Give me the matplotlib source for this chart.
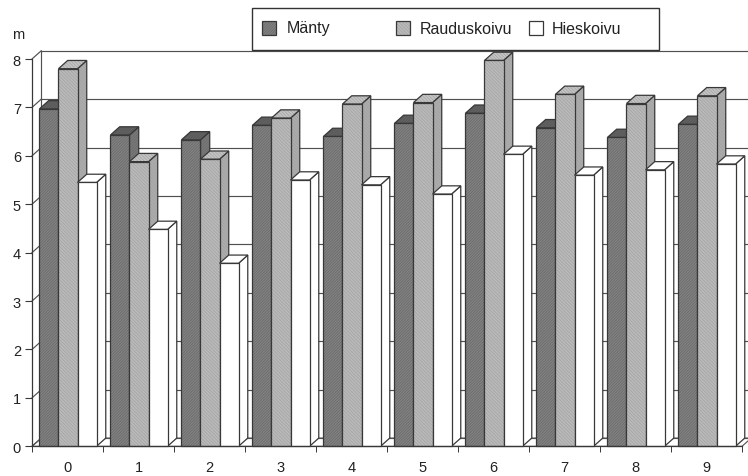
import matplotlib
matplotlib.use("Agg")
import matplotlib.pyplot as plt
from matplotlib.patches import Polygon, Rectangle

plt.rcParams['font.family'] = ['Liberation Sans', 'DejaVu Sans']
plt.rcParams['hatch.linewidth'] = 0.45

# --- data: mean height (m) by age class ---
ikaluokat = [0, 1, 2, 3, 4, 5, 6, 7, 8, 9]
manty = [6.97, 6.43, 6.33, 6.63, 6.40, 6.67, 6.88, 6.58, 6.38, 6.65]
rauduskoivu = [7.80, 5.88, 5.93, 6.78, 7.07, 7.10, 7.97, 7.27, 7.08, 7.24]
hieskoivu = [5.45, 4.48, 3.78, 5.50, 5.40, 5.21, 6.03, 5.60, 5.71, 5.83]
sarjat = ['Mänty', 'Rauduskoivu', 'Hieskoivu']
y_ticks = [0, 1, 2, 3, 4, 5, 6, 7, 8]

# face colours for each series: front, side, top, hatch pattern, hatch colour
tyylit = {
    'Mänty': dict(front='#828282', side='#7a7a7a', top='#5a5a5a',
                  hatch='////////////', hcol='#666666'),
    'Rauduskoivu': dict(front='#bababa', side='#acacac', top='#c4c4c4',
                        hatch='\\\\\\\\\\\\\\\\\\\\', hcol='#a0a0a0'),
    'Hieskoivu': dict(front='#ffffff', side='#ffffff', top='#ffffff',
                      hatch=None, hcol='none'),
}
EDGE = '#383838'
GRID = '#505050'

# pseudo-3D depth in data units
DX = 0.13
DY = 0.17
BAR_W = 0.268
GROUP_OFS = 0.105

W, H = 748, 477
fig = plt.figure(figsize=(W / 100, H / 100), dpi=100)
ax = fig.add_axes([32 / W, 29.7 / H, 710 / W, 387.3 / H])
ax.set_xlim(0, 10)
ax.set_ylim(0, 8)


def line(xs, ys, z=1, **kw):
    ax.plot(xs, ys, color=GRID, lw=0.85, clip_on=False, zorder=z, **kw)


# floor
ax.add_patch(Polygon([(0, 0), (10, 0), (10 + DX, DY), (DX, DY)], closed=True,
                     facecolor='white', edgecolor=GRID, lw=0.8,
                     clip_on=False, zorder=0.5))
# back wall gridlines and left wall diagonals
for v in y_ticks:
    line([DX, 10 + DX], [v + DY, v + DY])
    line([0, DX], [v, v + DY])
line([DX, DX], [DY, 8 + DY])


def pylvas(x0, h, st, z):
    front = [(x0, 0), (x0 + BAR_W, 0), (x0 + BAR_W, h), (x0, h)]
    side = [(x0 + BAR_W, 0), (x0 + BAR_W + DX, DY),
            (x0 + BAR_W + DX, h + DY), (x0 + BAR_W, h)]
    top = [(x0, h), (x0 + BAR_W, h), (x0 + BAR_W + DX, h + DY), (x0 + DX, h + DY)]
    for pts, fc in ((side, st['side']), (top, st['top']), (front, st['front'])):
        ax.add_patch(Polygon(pts, closed=True, facecolor=fc, edgecolor=st['hcol'],
                             hatch=st['hatch'], lw=0, clip_on=False, zorder=z))
        ax.add_patch(Polygon(pts, closed=True, fill=False, edgecolor=EDGE,
                             lw=0.9, clip_on=False, zorder=z))


arvot = [manty, rauduskoivu, hieskoivu]
for k, ika in enumerate(ikaluokat):
    for j, nimi in enumerate(sarjat):
        x0 = ika + GROUP_OFS + j * BAR_W
        pylvas(x0, arvot[j][k], tyylit[nimi], 3 + k * 3 + j)

# axes
for s in ('top', 'right'):
    ax.spines[s].set_visible(False)
for s in ('left', 'bottom'):
    ax.spines[s].set_color(EDGE)
    ax.spines[s].set_linewidth(0.9)
    ax.spines[s].set_zorder(60)

ax.set_yticks(y_ticks)
ax.set_yticklabels([str(v) for v in y_ticks])
ax.tick_params(axis='y', direction='out', length=5, width=0.8, color=EDGE,
               pad=3, labelsize=10.5, labelcolor='#222222')
ax.set_xticks([i + 0.5 for i in ikaluokat])
ax.set_xticklabels([str(i) for i in ikaluokat])
ax.set_xticks(range(11), minor=True)
ax.tick_params(axis='x', which='major', length=0, pad=10, labelsize=10.5,
               labelcolor='#222222')
ax.tick_params(axis='x', which='minor', direction='out', length=4, width=0.7,
               color=EDGE)

fig.text(12 / W, 1 - 35 / H, 'm', fontsize=10.5, color='#222222', va='center')

# legend box
fig.add_artist(Rectangle((252 / W, 1 - 51 / H), 407 / W, 42 / H,
                         transform=fig.transFigure, facecolor='white',
                         edgecolor='#333333', lw=1.0, zorder=100))
for nimi, xs, xt in zip(sarjat, (262, 396, 529), (287, 420, 552)):
    st = tyylit[nimi]
    fig.add_artist(Rectangle((xs / W, 1 - 36 / H), 14 / W, 14 / H,
                             transform=fig.transFigure, facecolor=st['front'],
                             edgecolor=st['hcol'], hatch=st['hatch'], lw=0,
                             zorder=101))
    fig.add_artist(Rectangle((xs / W, 1 - 36 / H), 14 / W, 14 / H,
                             transform=fig.transFigure, fill=False,
                             edgecolor=EDGE, lw=0.9, zorder=102))
    fig.text(xt / W, 1 - 29 / H, nimi, fontsize=11.5, color='#222222',
             va='center', ha='left', zorder=103)

fig.savefig('out.png', dpi=100)
